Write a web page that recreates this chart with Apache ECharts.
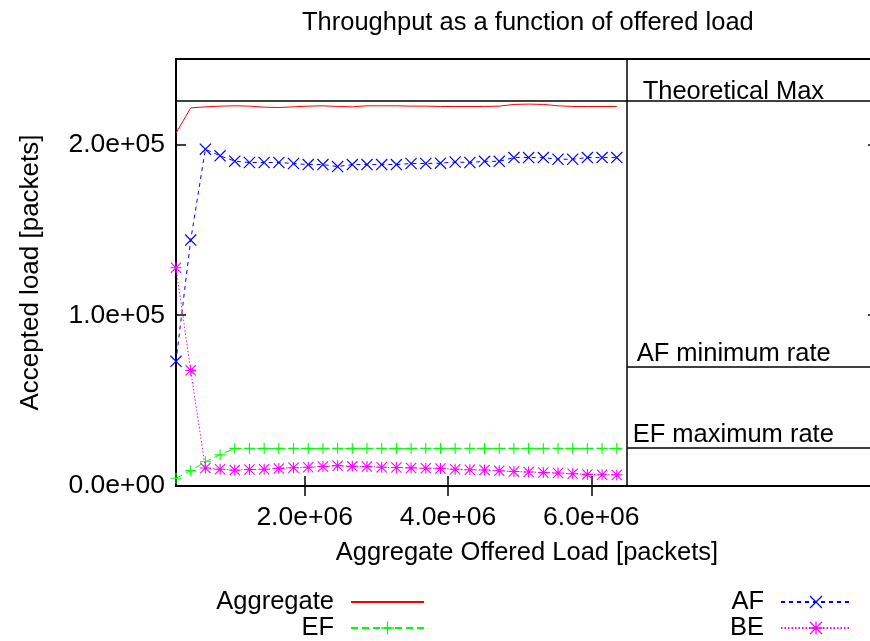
<!DOCTYPE html>
<html>
<head>
<meta charset="utf-8">
<script src="https://cdn.jsdelivr.net/npm/echarts@6/dist/echarts.min.js"></script>
<style>html,body{margin:0;padding:0;background:#fff}#c{width:870px;height:641px}</style>
</head>
<body>
<div id="c"></div>
<script>
// ---- data ----
const offeredLoad = [205000, 410000, 615000, 820000, 1025000, 1230000, 1435000, 1640000, 1845000, 2050000,
  2255000, 2460000, 2665000, 2870000, 3075000, 3280000, 3485000, 3690000, 3895000, 4100000,
  4305000, 4510000, 4715000, 4920000, 5125000, 5330000, 5535000, 5740000, 5945000, 6150000, 6355000];
const aggregate = [206600, 221400, 222000, 222400, 222600, 222400, 221800, 221600, 222000, 222400,
  222600, 222200, 222000, 222600, 222600, 222600, 222400, 222400, 222200, 222200,
  222200, 222200, 222400, 223400, 223600, 223400, 222600, 222200, 222200, 222200, 222200];
const af = [73000, 144000, 197200, 193300, 190200, 189400, 189400, 189400, 188800, 188200,
  188200, 187000, 188200, 188200, 188200, 188200, 188800, 188800, 189000, 189700,
  189400, 190100, 190100, 192300, 192300, 192300, 191300, 191300, 192300, 192300, 192300];
const ef = [4500, 9000, 14200, 18300, 22000, 22000, 22000, 22000, 22000, 22000,
  22000, 22000, 22000, 22000, 22000, 22000, 22000, 22000, 22000, 22000,
  22000, 22000, 22000, 22000, 22000, 22000, 22000, 22000, 22000, 22000, 22000];
const be = [127800, 67700, 10500, 9800, 9300, 9700, 9800, 10300, 10700, 11000,
  11400, 11900, 11500, 11400, 11000, 10800, 10600, 10400, 10300, 9800,
  9500, 9400, 8900, 8500, 8200, 7900, 7600, 7200, 6800, 6600, 6500];
const seriesNames = ['Aggregate', 'AF', 'EF', 'BE'];
const refNames = ['Theoretical Max', 'AF minimum rate', 'EF maximum rate'];
const refValues = [225500, 70000, 22300];
const refStartX = [205000, 6500000, 6500000];
const dividerX = 6500000;
const xRange = [205000, 10000000];
const yRange = [0, 250000];
const xTicks = [2000000, 4000000, 6000000];
const yTicks = [0, 100000, 200000];

// ---- styling ----
const FONT = '"Liberation Sans", Arial, Helvetica, sans-serif';
const FS = 25.5;
const FS_NAME = 26;
const FS_TICK = 26.5;
function sci(v) {
  if (v === 0) return '0.0e+00';
  const e = Math.floor(Math.log10(Math.abs(v)));
  const m = v / Math.pow(10, e);
  return m.toFixed(1) + 'e' + (e < 0 ? '-' : '+') + String(Math.abs(e)).padStart(2, '0');
}
// filled thin-bar glyphs (gnuplot point types: x, +, *)
const P_CROSS = 'M0,0.7L0.7,0L10,9.3L9.3,10Z M9.3,0L10,0.7L0.7,10L0,9.3Z';
const P_PLUS = 'M4.5,0L5.5,0L5.5,10L4.5,10Z M0,4.5L10,4.5L10,5.5L0,5.5Z';
const SYM_CROSS = 'path://' + P_CROSS;
const SYM_PLUS = 'path://' + P_PLUS;
const SYM_STAR = 'path://' + P_PLUS + ' ' + P_CROSS;
const pairs = (ys) => offeredLoad.map((x, i) => [x, ys[i]]);
const tickStyle = { show: true, inside: true, length: 10, lineStyle: { color: '#000', width: 1.5 } };

const labelOffsets = [[16, -8], [10, -12], [6, -12]];

const chart = echarts.init(document.getElementById('c'), null, { renderer: 'canvas' });
chart.setOption({
  animation: false,
  backgroundColor: '#fff',
  textStyle: { fontFamily: FONT, color: '#000' },
  title: {
    text: 'Throughput as a function of offered load',
    left: 297, top: 5,
    textStyle: { fontFamily: FONT, fontSize: FS, fontWeight: 'normal', color: '#000' }
  },
  legend: [
    {
      data: [{ name: 'Aggregate', itemStyle: { opacity: 0 } }, 'EF'], orient: 'vertical', align: 'right',
      right: 445, top: 589, padding: 0, itemGap: 0, itemWidth: 73, itemHeight: 16,
      selectedMode: false,
      textStyle: { fontFamily: FONT, fontSize: FS, lineHeight: 25, color: '#000', padding: [0, 12, 0, 0] }
    },
    {
      data: ['AF', 'BE'], orient: 'vertical', align: 'right',
      right: 18, top: 589, padding: 0, itemGap: 0, itemWidth: 70, itemHeight: 16,
      selectedMode: false,
      textStyle: { fontFamily: FONT, fontSize: FS, lineHeight: 25, color: '#000', padding: [0, 12, 0, 0] }
    }
  ],
  grid: { left: 176, top: 59, width: 702, height: 427, outerBoundsMode: 'none', containLabel: false,
    show: true, borderColor: '#000', borderWidth: 2, backgroundColor: 'transparent' },
  xAxis: [
    {
      type: 'value', min: xRange[0], max: xRange[1], position: 'bottom',
      name: 'Aggregate Offered Load [packets]', nameLocation: 'middle', nameGap: 54,
      nameTextStyle: { fontFamily: FONT, fontSize: FS, color: '#000' },
      axisLine: { show: false }, splitLine: { show: false },
      axisTick: Object.assign({ customValues: xTicks }, tickStyle),
      axisLabel: { customValues: xTicks, formatter: sci, margin: 18, fontFamily: FONT, fontSize: FS_TICK, color: '#000' }
    },
    {
      type: 'value', min: xRange[0], max: xRange[1], position: 'top',
      axisLine: { show: false }, splitLine: { show: false },
      axisTick: Object.assign({ customValues: xTicks }, tickStyle),
      axisLabel: { show: false }
    }
  ],
  yAxis: [
    {
      type: 'value', min: yRange[0], max: yRange[1], position: 'left',
      name: 'Accepted load [packets]', nameLocation: 'middle', nameGap: 132, nameRotate: 90,
      nameTextStyle: { fontFamily: FONT, fontSize: FS_NAME, color: '#000' },
      axisLine: { show: false }, splitLine: { show: false },
      axisTick: Object.assign({ customValues: yTicks }, tickStyle),
      axisLabel: { customValues: yTicks, formatter: sci, margin: 11, fontFamily: FONT, fontSize: FS_TICK, color: '#000' }
    },
    {
      type: 'value', min: yRange[0], max: yRange[1], position: 'right',
      axisLine: { show: false }, splitLine: { show: false },
      axisTick: Object.assign({ customValues: yTicks }, tickStyle),
      axisLabel: { show: false }
    }
  ],
  series: [
    {
      name: seriesNames[0], type: 'line', data: pairs(aggregate),
      symbol: 'none', showSymbol: false, emphasis: { disabled: true },
      lineStyle: { color: '#ff0000', width: 1, type: 'solid' },
      itemStyle: { color: '#ff0000' }
    },
    {
      name: seriesNames[1], type: 'line', data: pairs(af),
      symbol: SYM_CROSS, symbolSize: 12, showAllSymbol: true, emphasis: { disabled: true },
      lineStyle: { color: '#0000ff', width: 1, type: [4, 4] },
      itemStyle: { color: '#0000ff', borderWidth: 0 }
    },
    {
      name: seriesNames[2], type: 'line', data: pairs(ef),
      symbol: SYM_PLUS, symbolSize: 11, showAllSymbol: true, emphasis: { disabled: true },
      lineStyle: { color: '#00ff00', width: 1, type: [7, 4] },
      itemStyle: { color: '#00ff00', borderWidth: 0 }
    },
    {
      name: seriesNames[3], type: 'line', data: pairs(be),
      symbol: SYM_STAR, symbolSize: 11, showAllSymbol: true, emphasis: { disabled: true },
      lineStyle: { color: '#ff00ff', width: 1, type: [1.5, 2] },
      itemStyle: { color: '#ff00ff', borderWidth: 0 }
    },
    {
      name: 'refs', type: 'line', data: [], silent: true,
      markLine: {
        silent: true, symbol: ['none', 'none'], animation: false,
        label: { show: false },
        lineStyle: { color: '#000', width: 1.5, type: 'solid' },
        emphasis: { disabled: true },
        data: [{ xAxis: dividerX }].concat(refValues.map((v, i) => [
          { coord: [refStartX[i], v] }, { coord: [xRange[1], v] }
        ]))
      },
      markPoint: {
        silent: true, symbol: 'rect', symbolSize: 1, animation: false,
        itemStyle: { color: 'rgba(0,0,0,0)' },
        data: refNames.map((n, i) => ({
          coord: [dividerX, refValues[i]], value: n,
          label: {
            show: true, formatter: n, position: labelOffsets[i], align: 'left', verticalAlign: 'middle',
            fontFamily: FONT, fontSize: FS, color: '#000'
          }
        }))
      }
    }
  ]
});
</script>
</body>
</html>
